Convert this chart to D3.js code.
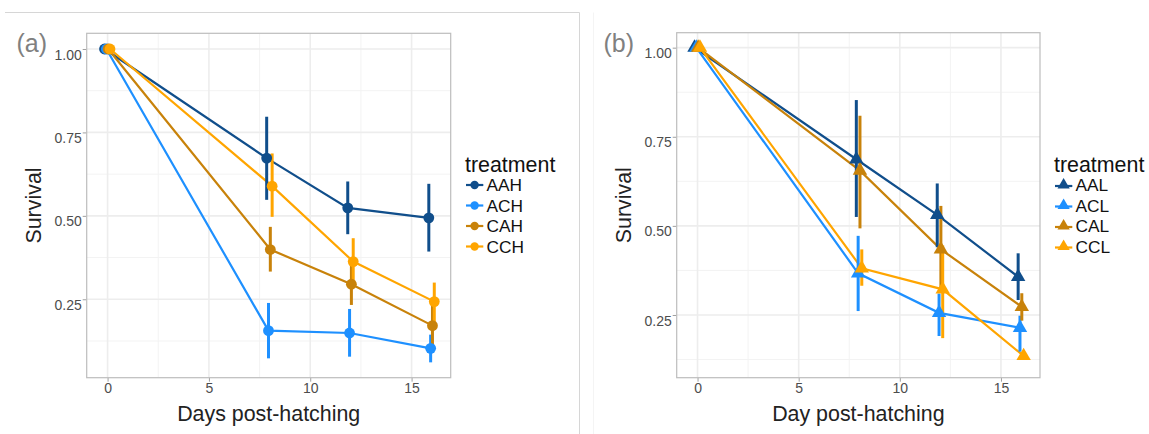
<!DOCTYPE html>
<html><head><meta charset="utf-8">
<script src="https://cdn.jsdelivr.net/npm/d3@7"></script>
<style>body{margin:0;background:#fff}svg{display:block}text{font-family:"Liberation Sans",Arial,sans-serif}</style>
</head><body>
<svg id="c" width="1149" height="434"></svg>
<script>
// ---------- data ----------
const days = [0, 8, 12, 16];
const xTicks = [0, 5, 10, 15];
const yTicks = [0.25, 0.50, 0.75, 1.00];
const yTickLabels = ["0.25", "0.50", "0.75", "1.00"];
const dodge = [-0.15, -0.06, 0.03, 0.12];

const seriesA = ["AAH", "ACH", "CAH", "CCH"];
const meanA = [
  [1.0, 0.673, 0.524, 0.494],
  [1.0, 0.156, 0.149, 0.103],
  [1.0, 0.399, 0.295, 0.171],
  [1.0, 0.589, 0.363, 0.243]
];
const loA = [
  [1.0, 0.548, 0.445, 0.393],
  [1.0, 0.073, 0.078, 0.061],
  [1.0, 0.333, 0.233, 0.095],
  [1.0, 0.497, 0.295, 0.180]
];
const hiA = [
  [1.0, 0.797, 0.603, 0.596],
  [1.0, 0.239, 0.221, 0.144],
  [1.0, 0.467, 0.358, 0.250],
  [1.0, 0.687, 0.433, 0.300]
];

const seriesB = ["AAL", "ACL", "CAL", "CCL"];
const meanB = [
  [1.0, 0.687, 0.531, 0.357],
  [1.0, 0.367, 0.256, 0.214],
  [1.0, 0.655, 0.434, 0.273],
  [1.0, 0.381, 0.322, 0.135]
];
const loB = [
  [1.0, 0.525, 0.440, 0.292],
  [1.0, 0.261, 0.191, 0.147],
  [1.0, 0.493, 0.315, 0.234],
  [1.0, 0.332, 0.185, 0.125]
];
const hiB = [
  [1.0, 0.853, 0.619, 0.423],
  [1.0, 0.472, 0.310, 0.248],
  [1.0, 0.809, 0.556, 0.311],
  [1.0, 0.434, 0.445, 0.145]
];

const colors = ["#104E8B", "#1E90FF", "#C8820A", "#FFA500"];

// ---------- drawing ----------
const svg = d3.select("#c");
svg.append("rect").attr("width", 1149).attr("height", 434).attr("fill", "#fff");
svg.append("line").attr("x1", 5).attr("x2", 579.5).attr("y1", 12.5).attr("y2", 12.5).attr("stroke", "#d6d6d6").attr("stroke-width", 1);
svg.append("line").attr("x1", 579.5).attr("x2", 579.5).attr("y1", 12.5).attr("y2", 434).attr("stroke", "#d6d6d6").attr("stroke-width", 1);
svg.append("line").attr("x1", 593.5).attr("x2", 593.5).attr("y1", 12.5).attr("y2", 434).attr("stroke", "#f4f4f4").attr("stroke-width", 1);

function panel(cfg) {
  const g = svg.append("g");
  const x = d3.scaleLinear().domain([-1.03, 16.93]).range([cfg.left, cfg.right]);
  const y = d3.scaleLinear().domain(cfg.ydom).range([cfg.bottom, cfg.top]);

  const xMinor = [2.5, 7.5, 12.5];
  const yMinor = [0.125, 0.375, 0.625, 0.875].filter(v => v >= cfg.ydom[0]);
  g.selectAll(".xm").data(xMinor).enter().append("line")
    .attr("x1", d => x(d)).attr("x2", d => x(d)).attr("y1", cfg.top).attr("y2", cfg.bottom)
    .attr("stroke", "#f3f3f3").attr("stroke-width", 1);
  g.selectAll(".ym").data(yMinor).enter().append("line")
    .attr("y1", d => y(d)).attr("y2", d => y(d)).attr("x1", cfg.left).attr("x2", cfg.right)
    .attr("stroke", "#f3f3f3").attr("stroke-width", 1);
  g.selectAll(".xg").data(xTicks).enter().append("line")
    .attr("x1", d => x(d)).attr("x2", d => x(d)).attr("y1", cfg.top).attr("y2", cfg.bottom)
    .attr("stroke", "#ededed").attr("stroke-width", 1.6);
  g.selectAll(".yg").data(yTicks).enter().append("line")
    .attr("y1", d => y(d)).attr("y2", d => y(d)).attr("x1", cfg.left).attr("x2", cfg.right)
    .attr("stroke", "#ededed").attr("stroke-width", 1.6);

  const xa = g.append("g").attr("transform", `translate(0,${cfg.bottom})`)
    .call(d3.axisBottom(x).tickValues(xTicks).tickSize(4).tickPadding(3).tickFormat(d3.format("d")));
  const ya = g.append("g").attr("transform", `translate(${cfg.left},0)`)
    .call(d3.axisLeft(y).tickValues(yTicks).tickSize(4).tickPadding(1).tickFormat((d, i) => yTickLabels[i]));
  [xa, ya].forEach(a => {
    a.select(".domain").remove();
    a.selectAll(".tick line").attr("stroke", "#a0a0a0").attr("stroke-width", 1);
    a.selectAll(".tick text").attr("fill", "#4d4d4d").style("font-size", "14px")
      .style("font-family", '"Liberation Sans",Arial,sans-serif');
  });
  ya.selectAll(".tick text").attr("dy", "0.72em").attr("y", 0);
  xa.selectAll(".tick text").attr("dy", "0.72em").attr("y", 5.5);

  g.append("rect").attr("x", cfg.left).attr("y", cfg.top)
    .attr("width", cfg.right - cfg.left).attr("height", cfg.bottom - cfg.top)
    .attr("fill", "none").attr("stroke", "#bdbdbd").attr("stroke-width", 1.2);

  const line = d3.line().x(d => x(d[0])).y(d => y(d[1]));
  cfg.mean.forEach((m, s) => {
    g.append("path").datum(days.map((dd, i) => [dd + dodge[s], m[i]]))
      .attr("d", line).attr("fill", "none").attr("stroke", colors[s]).attr("stroke-width", 2.2);
  });
  cfg.mean.forEach((m, s) => {
    g.selectAll(null).data(days.map((dd, i) => i)).enter().append("line")
      .attr("x1", i => x(days[i] + dodge[s])).attr("x2", i => x(days[i] + dodge[s]))
      .attr("y1", i => y(cfg.lo[s][i])).attr("y2", i => y(cfg.hi[s][i]))
      .attr("stroke", colors[s]).attr("stroke-width", 3);
  });
  const sym = cfg.shape === "tri" ? d3.symbol().type(d3.symbolTriangle).size(90) : null;
  cfg.mean.forEach((m, s) => {
    days.forEach((dd, i) => {
      if (sym) {
        g.append("path").attr("d", sym)
          .attr("transform", `translate(${x(dd + dodge[s])},${y(m[i])})`)
          .attr("fill", colors[s]);
      } else {
        g.append("circle").attr("cx", x(dd + dodge[s])).attr("cy", y(m[i])).attr("r", 5.4)
          .attr("fill", colors[s]);
      }
    });
  });

  g.append("text").attr("x", (cfg.left + cfg.right) / 2).attr("y", 421)
    .attr("text-anchor", "middle").style("font-size", "21.4px").attr("fill", "#222").text(cfg.xlab);
  g.append("text").attr("transform", `translate(${cfg.ylabX},${(cfg.top + cfg.bottom) / 2}) rotate(-90)`)
    .attr("text-anchor", "middle").style("font-size", "21.4px").attr("fill", "#222").text("Survival");
  g.append("text").attr("x", cfg.tagX).attr("y", 52).style("font-size", "25px").attr("fill", "#808080").text(cfg.tag);

  g.append("text").attr("x", cfg.legX).attr("y", 172).style("font-size", "21.4px").attr("fill", "#111").text("treatment");
  const ys = [185, 205.5, 226, 246.5];
  cfg.names.forEach((n, s) => {
    const cy = ys[s], kx = cfg.legX + 1;
    if (sym) {
      g.append("line").attr("x1", kx).attr("x2", kx + 17.3).attr("y1", cy + 1).attr("y2", cy + 1)
        .attr("stroke", colors[s]).attr("stroke-width", 2.2);
      g.append("path").attr("d", d3.symbol().type(d3.symbolTriangle).size(65))
        .attr("transform", `translate(${kx + 8.6},${cy})`).attr("fill", colors[s]);
    } else {
      g.append("line").attr("x1", kx).attr("x2", kx + 17.3).attr("y1", cy).attr("y2", cy)
        .attr("stroke", colors[s]).attr("stroke-width", 2.2);
      g.append("circle").attr("cx", kx + 8.6).attr("cy", cy).attr("r", 4.2).attr("fill", colors[s]);
    }
    g.append("text").attr("x", kx + 20.5).attr("y", cy + 6.4).style("font-size", "17.3px").attr("fill", "#111").text(n);
  });
}

panel({ left: 86.7, right: 450.7, top: 33.3, bottom: 377.7, ydom: [0.015, 1.047],
  mean: meanA, lo: loA, hi: hiA, names: seriesA, shape: "circle",
  xlab: "Days post-hatching", ylabX: 41, tag: "(a)", tagX: 16.5, legX: 465 });
panel({ left: 676.7, right: 1040, top: 32.7, bottom: 377.7, ydom: [0.074, 1.042],
  mean: meanB, lo: loB, hi: hiB, names: seriesB, shape: "tri",
  xlab: "Day post-hatching", ylabX: 631, tag: "(b)", tagX: 603.5, legX: 1054 });
</script>
</body></html>
